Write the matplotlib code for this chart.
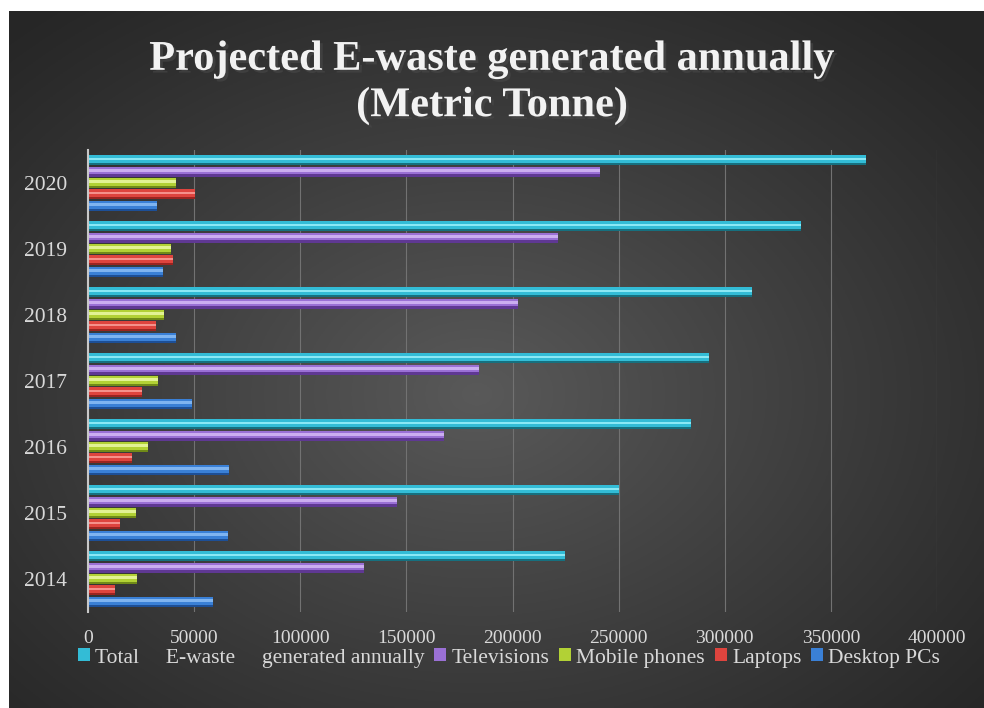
import numpy as np
import matplotlib.pyplot as plt
import matplotlib.patheffects as pe

# data (metric tonnes)
years = ['2014', '2015', '2016', '2017', '2018', '2019', '2020']
desktop_pcs = [59000, 66000, 66500, 49000, 41500, 35500, 32500]
laptops = [12500, 15000, 20500, 25500, 32000, 40000, 50500]
mobile_phones = [23000, 22500, 28500, 33000, 36000, 39000, 41500]
televisions = [130000, 145500, 167500, 184000, 202500, 221500, 241000]
total_ewaste = [224500, 250000, 284000, 292500, 313000, 336000, 366500]

xticks = [0, 50000, 100000, 150000, 200000, 250000, 300000, 350000, 400000]

# (values, label, dark, mid, light), bottom to top inside each year group
series = [
    (desktop_pcs, 'Desktop PCs', '#1d4f96', '#3a80d6', '#7fb4f0'),
    (laptops, 'Laptops', '#9a2420', '#de443e', '#f5918b'),
    (mobile_phones, 'Mobile phones', '#708a18', '#b2d135', '#e2f294'),
    (televisions, 'Televisions', '#5f3893', '#9a70d5', '#cbaef0'),
    (total_ewaste, 'Total     E-waste     generated annually', '#16707f', '#33bcd6', '#8ae8f5'),
]

W, H = 984, 708
fig = plt.figure(figsize=(W / 100, H / 100), dpi=100, facecolor='white')

# dark radial background with a white strip on top and left
bg = fig.add_axes([9 / W, 0, (W - 9) / W, (H - 11) / H])
gx, gy = np.meshgrid(np.linspace(0, 1, 400), np.linspace(0, 1, 300))
r = np.sqrt(((gx - 0.48) / 0.7) ** 2 + ((gy - 0.55) / 0.72) ** 2)
shade = 0.15 + 0.2 * np.clip(1 - r, 0, 1) ** 1.1
bg.imshow(np.dstack([shade] * 3), aspect='auto', extent=[0, 1, 0, 1], origin='upper')
bg.set_axis_off()

ax = fig.add_axes([88 / W, 96 / H, (937 - 88) / W, (612 - 150) / H])
ax.patch.set_alpha(0)

base = np.arange(len(years))
slot = 0.173
bh = 0.152
handles = []
for i, (vals, label, dark, mid, light) in enumerate(series):
    y = base + (i - 2) * slot
    ax.barh(y, vals, height=bh, color=dark, zorder=3)
    h = ax.barh(y + 0.11 * bh, vals, height=0.78 * bh, color=mid, zorder=3, label=label)
    ax.barh(y + 0.13 * bh, vals, height=0.25 * bh, color=light, zorder=3)
    handles.append(h)

ax.set_xlim(0, 400000)
ax.set_ylim(-0.5, len(years) - 0.5)
ax.set_xticks(xticks)
ax.set_xticklabels([str(t) for t in xticks])
ax.set_yticks(base)
ax.set_yticklabels(years)
ax.tick_params(axis='x', length=0, pad=13, labelsize=14, labelcolor='#d9d9d9')
ax.tick_params(axis='y', length=0, pad=15, labelsize=15.5, labelcolor='#d9d9d9')
for lab in ax.get_xticklabels() + ax.get_yticklabels():
    lab.set_family('Liberation Serif')

ax.xaxis.grid(True, color='#727272', lw=0.8, zorder=0)
ax.set_axisbelow(True)
for s in ['top', 'right', 'bottom']:
    ax.spines[s].set_visible(False)
ax.spines['left'].set_color('#c8c8c8')
ax.spines['left'].set_linewidth(1.5)
ax.spines['left'].set_zorder(4)

leg = fig.legend(handles[::-1], [s[1] for s in series][::-1], loc='center',
                 bbox_to_anchor=(509 / W, 1 - 658 / H), ncol=5, frameon=False,
                 handlelength=0.55, handleheight=0.55, handletextpad=0.25,
                 columnspacing=0.45, prop={'family': 'Liberation Serif', 'size': 15.5})
for t in leg.get_texts():
    t.set_color('#d9d9d9')

fig.text(492 / W, 1 - 83 / H, 'Projected E-waste generated annually\n(Metric Tonne)',
         ha='center', va='center', color='#f2f2f2', fontsize=30.5, fontweight='bold',
         family='Liberation Serif', linespacing=1.27,
         path_effects=[pe.withSimplePatchShadow(offset=(2, -2), alpha=0.6)])

fig.savefig('out.png', dpi=100, facecolor='white')
